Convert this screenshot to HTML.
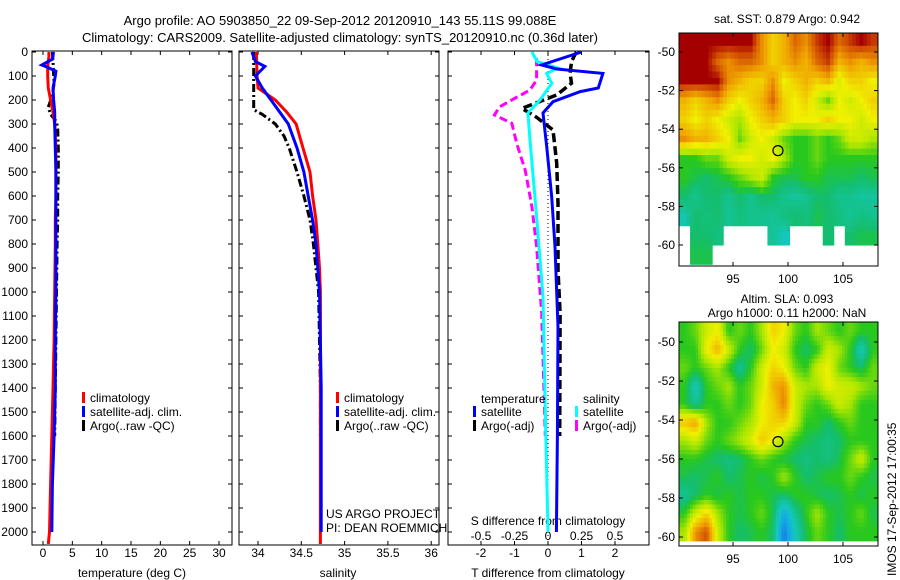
<!DOCTYPE html>
<html><head><meta charset="utf-8">
<style>
body{margin:0;background:#fff;}
svg{display:block;font-family:"Liberation Sans",sans-serif;}
</style></head>
<body>
<svg id="fig" width="900" height="580" viewBox="0 0 900 580" xmlns="http://www.w3.org/2000/svg">
<rect width="900" height="580" fill="#fff"/>
<text x="340" y="25" font-size="13" text-anchor="middle">Argo profile: AO 5903850_22 09-Sep-2012 20120910_143 55.11S 99.088E</text>
<text x="340" y="42" font-size="13" text-anchor="middle">Climatology: CARS2009. Satellite-adjusted climatology: synTS_20120910.nc (0.36d later)</text>
<g id="g"></g>
</svg>
<script>
// ---- data ----
const depthTicks=[0,100,200,300,400,500,600,700,800,900,1000,1100,1200,1300,1400,1500,1600,1700,1800,1900,2000];
const tTicks=[0,5,10,15,20,25,30];
const sTicks=[34,34.5,35,35.5,36];
const dTTicks=[-2,-1,0,1,2];
const dSTicks=[-0.5,-0.25,0,0.25,0.5];
const lonTicks=[95,100,105];
const latTicks=[-50,-52,-54,-56,-58,-60];

const climTDepth=[0,20,40,60,80,100,150,200,250,300,400,500,600,700,800,1000,1200,1400,1600,1800,2000,2050];
const climT=[1.0,1.0,0.9,0.8,0.8,0.8,0.9,1.3,1.7,2.0,2.2,2.2,2.2,2.1,2.1,2.0,1.9,1.7,1.5,1.3,1.1,0.9];
const satTDepth=[0,30,54,62,80,100,150,200,250,300,400,500,600,800,1000,1200,1400,1600,1800,2000];
const satT=[1.8,1.6,-0.2,0.6,2.2,2.1,1.7,1.8,2.0,2.0,2.1,2.2,2.2,2.2,2.2,2.1,2.1,1.9,1.6,1.5];
const argoTDepth=[0,40,90,130,180,230,260,290,320,400,500,600,700,800,1000,1200,1400,1600];
const argoT=[1.6,1.7,1.8,1.9,1.6,0.9,1.3,2.3,2.5,2.6,2.6,2.5,2.5,2.4,2.3,2.2,2.1,2.0];

const climSDepth=[0,100,150,200,250,300,400,500,600,700,800,900,1000,1200,1600,2050];
const climS=[33.98,33.99,34.0,34.2,34.33,34.44,34.52,34.6,34.63,34.67,34.69,34.71,34.72,34.72,34.72,34.72];
const satSDepth=[0,40,60,100,150,200,300,400,500,600,700,800,1000,1400,2000];
const satS=[33.93,33.97,34.08,33.97,34.05,34.15,34.35,34.45,34.53,34.58,34.63,34.67,34.71,34.73,34.73];
const argoSDepth=[0,200,240,260,300,350,400,500,600,700,800,900,1000,1400,1600];
const argoS=[33.95,33.95,33.95,34.05,34.2,34.3,34.36,34.45,34.53,34.6,34.64,34.67,34.7,34.72,34.72];

const dSatTDepth=[0,54,71,89,150,165,207,254,394,603,811,1144,1600,2000];
const dSatT=[1.0,-0.19,0.26,1.64,1.5,0.96,0.15,-0.15,-0.04,0.11,0.21,0.3,0.28,0.25];
const dArgoTDepth=[0,12,40,89,130,179,235,272,325,463,630,908,1089,1600];
const dArgoT=[0.85,0.8,0.7,0.66,0.7,0.26,-0.78,-0.34,0.15,0.26,0.3,0.3,0.36,0.35];
const dSatSDepth=[0,40,67,89,130,200,254,367,686,1019,1500,2000];
const dSatS=[-0.12,-0.08,0.075,-0.01,0.028,-0.06,-0.15,-0.134,-0.085,-0.037,-0.02,0.0];
const dArgoSDepth=[26,117,158,228,262,297,388,492,644,811,1089,1600];
const dArgoS=[-0.085,-0.085,-0.134,-0.36,-0.4,-0.27,-0.23,-0.17,-0.12,-0.085,-0.047,-0.02];

const sstGrid=[
[.95,.95,.95,.95,.95,.95,.95,.8,.7,.75,.85,.8,.9,.95,.85,.9,.95,.9],
[.95,.95,.95,.85,.8,.85,.85,.8,.7,.75,.8,.75,.85,.9,.75,.8,.75,.8],
[.95,.95,.95,.95,.8,.75,.7,.7,.8,.65,.7,.75,.7,.75,.62,.7,.7,.65],
[.75,.7,.75,.8,.7,.65,.7,.75,.85,.7,.65,.7,.6,.5,.65,.6,.65,.7],
[.7,.65,.7,.65,.6,.55,.65,.7,.75,.7,.65,.65,.65,.7,.65,.65,.6,.65],
[.8,.75,.75,.7,.65,.5,.6,.65,.6,.5,.45,.45,.5,.45,.5,.6,.6,.55],
[.45,.45,.5,.5,.6,.65,.65,.6,.65,.55,.45,.45,.5,.45,.45,.45,.45,.45],
[.45,.42,.4,.42,.45,.5,.55,.6,.45,.42,.42,.45,.45,.42,.42,.42,.4,.42],
[.4,.36,.4,.4,.36,.4,.36,.4,.4,.36,.34,.36,.4,.4,.36,.36,.34,.34],
[.32,.4,.38,.4,.35,.38,.36,.36,.35,.38,.4,.38,.42,.4,.38,.35,.38,.36],
[-1,.4,.4,.38,-1,-1,-1,-1,.35,.3,-1,-1,-1,.4,-1,.4,.42,.42],
[-1,.42,.42,-1,-1,-1,-1,-1,-1,-1,-1,-1,-1,-1,-1,-1,-1,-1]];
const slaGrid=[
[.45,.5,.6,.65,.45,.5,.45,.55,.7,.65,.5,.45,.55,.5,.45,.5,.45,.45],
[.45,.45,.65,.75,.6,.45,.4,.5,.65,.6,.45,.4,.45,.6,.55,.45,.3,.45],
[.5,.45,.5,.55,.45,.35,.45,.6,.7,.65,.5,.45,.6,.65,.5,.45,.4,.5],
[.45,.3,.45,.5,.55,.45,.5,.6,.75,.8,.6,.55,.55,.65,.6,.6,.55,.5],
[.45,.35,.45,.45,.5,.45,.5,.65,.7,.82,.6,.5,.45,.5,.6,.55,.45,.45],
[.72,.78,.55,.45,.45,.5,.55,.65,.7,.7,.6,.45,.45,.4,.45,.5,.45,.45],
[.55,.6,.5,.45,.5,.55,.62,.72,.65,.55,.45,.42,.4,.38,.4,.45,.45,.45],
[.45,.45,.42,.4,.38,.4,.45,.5,.45,.42,.4,.38,.4,.38,.42,.5,.6,.45],
[.42,.4,.42,.45,.4,.42,.45,.42,.45,.55,.45,.4,.42,.45,.45,.5,.45,.42],
[.35,.4,.45,.42,.45,.42,.45,.45,.42,.4,.45,.45,.42,.4,.42,.45,.42,.45],
[.45,.6,.7,.55,.45,.42,.45,.5,.42,.2,.35,.45,.55,.45,.42,.45,.5,.42],
[.55,.8,.88,.6,.45,.4,.42,.45,.4,.12,.3,.42,.5,.45,.4,.45,.45,.45]];
const argoLon=[99.088], argoLat=[-55.11];

const NS='http://www.w3.org/2000/svg';
const G=document.getElementById('g');
function mk(tag,attrs,parent){const e=document.createElementNS(NS,tag);for(const k in attrs)e.setAttribute(k,attrs[k]);(parent||G).appendChild(e);return e;}
function txt(x,y,s,size,anchor,parent){const e=mk('text',{x:x,y:y,'font-size':size||12,'text-anchor':anchor||'middle'},parent);e.textContent=s;return e;}
const yD=d=>52+d*0.24;
const xT=t=>43+t*(176/30);
const xS=s=>258+(s-34)*86.6;
const xDT=t=>548+t*33.5;
const xDS=s=>548+s*134;

function panel(x0,x1,name){
  const r=mk('rect',{x:x0,y:51,width:x1-x0,height:494,fill:'none',stroke:'#000','stroke-width':1});
  
  
}
function legend(x,y,color,label,name){
  const g=mk('g',{});
  
  
  mk('rect',{x:x,y:y-10,width:3,height:11,fill:color},g);
  txt(x+8,y,label,12,'start',g);
}

const clipDef=mk('defs',{});
[['c1',32,232],['c2',239,439],['c3',448,649]].forEach(c=>{const cp=mk('clipPath',{id:c[0]},clipDef);mk('rect',{x:c[1],y:51,width:c[2]-c[1],height:494},cp);});
panel(32,232,'temperature-panel');panel(239,439,'salinity-panel');panel(448,649,'difference-panel');

depthTicks.forEach(d=>{
  const t=txt(28,yD(d)+4,String(d),12,'end');
  
  [32,239,448].forEach((x0,i)=>{const x1=[232,439,649][i];mk('line',{x1:x0,x2:x0+4,y1:yD(d),y2:yD(d),stroke:'#000'});mk('line',{x1:x1,x2:x1-4,y1:yD(d),y2:yD(d),stroke:'#000'});});
});
tTicks.forEach(t=>{const l=txt(xT(t),557,String(t),12);mk('line',{x1:xT(t),x2:xT(t),y1:545,y2:541,stroke:'#000'});mk('line',{x1:xT(t),x2:xT(t),y1:51,y2:55,stroke:'#000'});});
sTicks.forEach(s=>{const l=txt(xS(s),557,String(s),12);mk('line',{x1:xS(s),x2:xS(s),y1:545,y2:541,stroke:'#000'});mk('line',{x1:xS(s),x2:xS(s),y1:51,y2:55,stroke:'#000'});});
dTTicks.forEach(t=>{const l=txt(xDT(t),557,String(t),12);mk('line',{x1:xDT(t),x2:xDT(t),y1:545,y2:541,stroke:'#000'});mk('line',{x1:xDT(t),x2:xDT(t),y1:51,y2:55,stroke:'#000'});});
dSTicks.forEach(s=>{const l=txt(xDS(s),540,String(s),12);});
let a=txt(132,577,'temperature (deg C)',12);
a=txt(338,577,'salinity',12);
a=txt(548,577,'T difference from climatology',12);
a=txt(548,525,'S difference from climatology',12);

const p1=mk('g',{'clip-path':'url(#c1)'}),p2=mk('g',{'clip-path':'url(#c2)'}),p3=mk('g',{'clip-path':'url(#c3)'});
function lineIn(g,xs,ds,xf,color,w,dash,name){const pts=xs.map((v,i)=>xf(v).toFixed(1)+','+yD(ds[i]).toFixed(1)).join(' ');const e=mk('polyline',{points:pts,fill:'none',stroke:color,'stroke-width':w,'stroke-dasharray':dash||'none'},g);}
lineIn(p1,argoT,argoTDepth,xT,'#000',3,'8,3,2,3','argo-temperature-line');
lineIn(p1,climT,climTDepth,xT,'#f00',3,'','climatology-temperature-line');
lineIn(p1,satT,satTDepth,xT,'#00f',3,'','satellite-temperature-line');
lineIn(p2,argoS,argoSDepth,xS,'#000',3,'8,3,2,3','argo-salinity-line');
lineIn(p2,climS,climSDepth,xS,'#f00',3,'','climatology-salinity-line');
lineIn(p2,satS,satSDepth,xS,'#00f',3,'','satellite-salinity-line');
const zl=mk('line',{x1:548,x2:548,y1:51,y2:545,stroke:'#000','stroke-dasharray':'1,3'},p3);


lineIn(p3,dArgoS,dArgoSDepth,xDS,'#f0f',3,'8,4','argo-sdiff-line');
lineIn(p3,dArgoT,dArgoTDepth,xDT,'#000',3.5,'9,4','argo-tdiff-line');
lineIn(p3,dSatS,dSatSDepth,xDS,'#0ff',3,'','satellite-sdiff-line');
lineIn(p3,dSatT,dSatTDepth,xDT,'#00f',3,'','satellite-tdiff-line');

legend(82,402,'#f00','climatology','legend-climatology');
legend(82,416,'#00f','satellite-adj. clim.','legend-satellite');
legend(82,430,'#000','Argo(..raw -QC)','legend-argo');
legend(336,402,'#f00','climatology','legend-climatology-s');
legend(336,416,'#00f','satellite-adj. clim.','legend-satellite-s');
legend(336,430,'#000','Argo(..raw -QC)','legend-argo-s');
a=txt(481,403,'temperature',12,'start');
legend(473,416,'#00f','satellite','legend-t-satellite');
legend(473,430,'#000','Argo(-adj)','legend-t-argo');
a=txt(583,403,'salinity',12,'start');
legend(575,416,'#0ff','satellite','legend-s-satellite');
legend(575,430,'#f0f','Argo(-adj)','legend-s-argo');
a=txt(326,518,'US ARGO PROJECT',12,'start');
a=txt(326,532,'PI: DEAN ROEMMICH',12,'start');

const stops=[[0,[20,60,220]],[.2,[20,170,230]],[.3,[20,200,190]],[.4,[20,190,110]],[.45,[40,200,30]],[.55,[170,230,0]],[.65,[240,240,0]],[.78,[240,160,0]],[.88,[210,80,0]],[.95,[165,0,0]],[1,[150,0,0]]];
function cmap(v){for(let i=1;i<stops.length;i++){if(v<=stops[i][0]){const [a0,c0]=stops[i-1],[a1,c1]=stops[i];const f=(v-a0)/(a1-a0);return 'rgb('+c0.map((c,k)=>Math.round(c+(c1[k]-c)*f)).join(',')+')';}}return 'rgb(150,0,0)';}

function sample(grid,fr,fc){
  const rows=grid.length,cols=grid[0].length;
  const nr=Math.min(rows-1,Math.max(0,Math.floor(fr))),nc=Math.min(cols-1,Math.max(0,Math.floor(fc)));
  if(grid[nr][nc]<0)return -1;
  const r=Math.min(rows-1,Math.max(0,fr-0.5)),c=Math.min(cols-1,Math.max(0,fc-0.5));
  const r0=Math.floor(r),c0=Math.floor(c),r1=Math.min(rows-1,r0+1),c1=Math.min(cols-1,c0+1);
  const fy=r-r0,fx=c-c0;let s=0,w=0;
  [[r0,c0,(1-fy)*(1-fx)],[r0,c1,(1-fy)*fx],[r1,c0,fy*(1-fx)],[r1,c1,fy*fx]].forEach(([rr,cc,ww])=>{const v=grid[rr][cc];if(v>=0){s+=v*ww;w+=ww;}});
  return w>0?s/w:grid[nr][nc];
}
function map(grid,x0,y0,w,h,latTop,latBot,yLat,name,sub){
  const g=mk('g',{});
  const rows=grid.length,cols=grid[0].length;
  const gx0=679,gx1=878,gyTop=Math.max(y0,yLat(latTop)),gyBot=yLat(latBot);
  const nC=cols*sub,nR=rows*sub;
  const cw=(gx1-gx0)/nC,ch=(gyBot-gyTop)/nR;
  for(let r=0;r<nR;r++)for(let c=0;c<nC;c++){
    const v=sample(grid,(r+0.5)/sub,(c+0.5)/sub);
    if(v<0)continue;
    const cell=mk('rect',{x:(gx0+c*cw).toFixed(2),y:(gyTop+r*ch).toFixed(2),width:(cw+0.5).toFixed(2),height:(ch+0.5).toFixed(2),fill:cmap(v)},g);
    
  }
  mk('rect',{x:x0,y:y0,width:w,height:h,fill:'none',stroke:'#000'},g);
  const xLon=l=>733+(l-95)*11;
  lonTicks.forEach(l=>{const t=txt(xLon(l),y0+h+17,String(l),12);mk('line',{x1:xLon(l),x2:xLon(l),y1:y0+h,y2:y0+h-4,stroke:'#000'},g);mk('line',{x1:xLon(l),x2:xLon(l),y1:y0,y2:y0+4,stroke:'#000'},g);});
  latTicks.forEach(l=>{const t=txt(675,yLat(l)+4,String(l),12,'end');mk('line',{x1:878,x2:874,y1:yLat(l),y2:yLat(l),stroke:'#000'},g);mk('line',{x1:679,x2:683,y1:yLat(l),y2:yLat(l),stroke:'#000'},g);});
  argoLon.forEach((lo,i)=>{const c=mk('circle',{cx:xLon(lo),cy:yLat(argoLat[i]),r:5,fill:'none',stroke:'#000','stroke-width':1.2},g);});
}
map(sstGrid,679,33,199,233,-49,-61,l=>52+(-50-l)*19.3,'sst-map',3);
map(slaGrid,679,322,199,224,-49.0,-60.2,l=>342+(-50-l)*19.5,'sla-map',4);
a=txt(787,23,'sat. SST: 0.879 Argo: 0.942',12);
a=txt(787,303,'Altim. SLA: 0.093',12);
a=txt(787,317,'Argo h1000: 0.11 h2000: NaN',12);
a=txt(0,0,'IMOS 17-Sep-2012 17:00:35',12,'start');a.setAttribute('transform','translate(896,576) rotate(-90)');
</script>
</body></html>
